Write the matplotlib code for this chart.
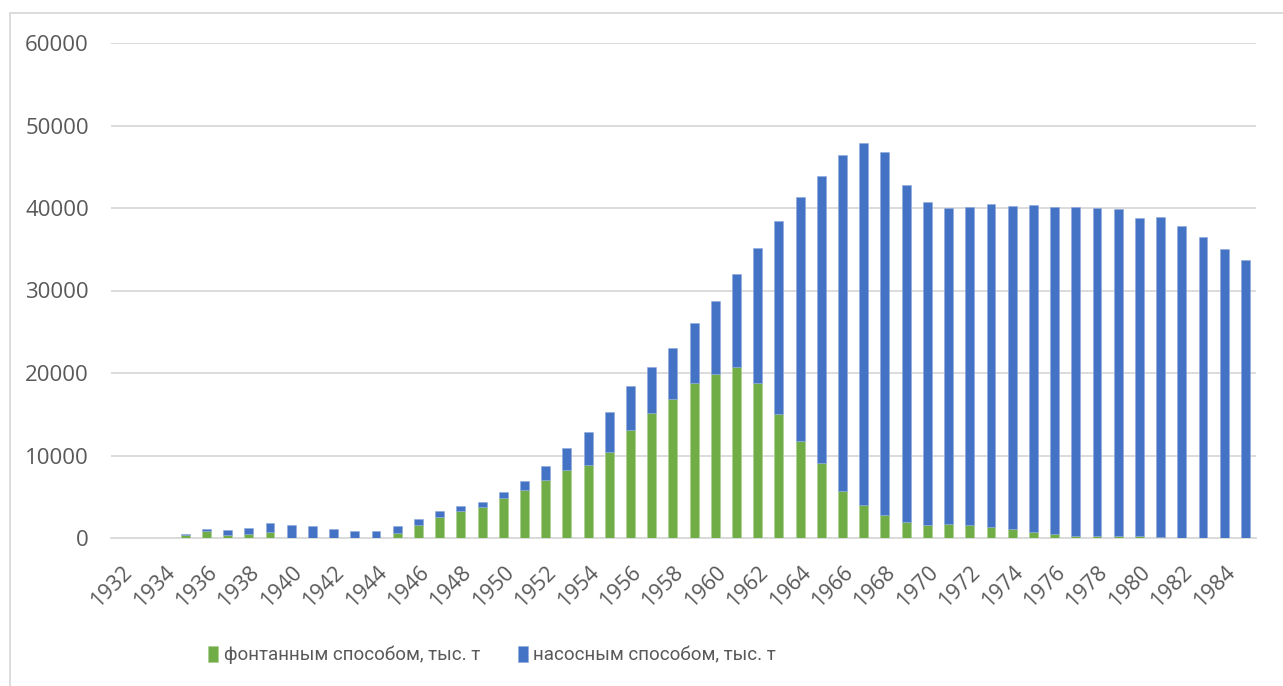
import numpy as np
import matplotlib
matplotlib.use('Agg')
import matplotlib.pyplot as plt
import matplotlib.transforms as mtransforms
from matplotlib.patches import Rectangle

# years 1932 .. 1985
years = list(range(1932, 1986))

# фонтанным способом, тыс. т (green, bottom)
flowing = [0, 0, 20, 400, 900, 350, 450, 700, 50, 30,
           20, 20, 20, 600, 1570, 2580, 3230, 3710, 4790, 5850,
           7000, 8290, 8850, 10420, 13130, 15150, 16890, 18790, 19840, 20730,
           18750, 15070, 11760, 9090, 5700, 4000, 2780, 2000, 1600, 1640,
           1520, 1350, 1150, 700, 500, 300, 200, 200, 200, 150,
           50, 30, 20, 20]

# totals (top of stacked bar)
total = [0, 0, 60, 450, 1050, 1000, 1250, 1780, 1540, 1420,
         1090, 850, 880, 1450, 2300, 3230, 3870, 4390, 5630, 6960,
         8700, 10950, 12890, 15270, 18420, 20730, 23030, 26100, 28730, 31960,
         35150, 38420, 41330, 43920, 46420, 47880, 46750, 42790, 40700, 40060,
         40130, 40500, 40220, 40340, 40180, 40130, 40010, 39850, 38840, 38880,
         37780, 36450, 35080, 33740]

# насосным способом, тыс. т (blue, top)
pumped = [t - f for t, f in zip(total, flowing)]

GREEN = '#70AD47'
BLUE = '#4472C4'
GRID = '#D9D9D9'
TEXT = '#595959'

plt.rcParams['font.family'] = ['Open Sans', 'DejaVu Sans']

fig = plt.figure(figsize = (12.83, 6.86), dpi = 100)
ax = fig.add_axes([111 / 1283, 1 - 538 / 686, (1256 - 111) / 1283, (538 - 43) / 686])

x = np.arange(len(years))
ax.bar(x, flowing, width = 0.42, color = GREEN, edgecolor = '#A9CE91', linewidth = 0.4,
       label = 'фонтанным способом, тыс. т', zorder = 3)
ax.bar(x, pumped, width = 0.42, bottom = flowing, color = BLUE, edgecolor = '#8FAADC', linewidth = 0.4,
       label = 'насосным способом, тыс. т', zorder = 3)

ax.set_xlim(-0.5, len(years) - 0.5)
ax.set_ylim(0, 60000)
ax.set_yticks(np.arange(0, 60001, 10000))
ax.set_yticklabels(['%d' % v for v in np.arange(0, 60001, 10000)])
ax.yaxis.grid(True, color = GRID, lw = 1.3, zorder = 0)

ax.set_xticks(x[::2])
ax.set_xticklabels([str(y) for y in years[::2]], rotation = 45, ha = 'right',
                   rotation_mode = 'anchor')
# shift the rotated year labels a bit to the right, like the original
shift = mtransforms.ScaledTranslation(4 / 100, 0, fig.dpi_scale_trans)
for lbl in ax.get_xticklabels():
    lbl.set_transform(lbl.get_transform() + shift)

for s in ['top', 'right', 'left']:
    ax.spines[s].set_visible(False)
ax.spines['bottom'].set_color(GRID)
ax.spines['bottom'].set_linewidth(1.3)
ax.spines['bottom'].set_zorder(1)

ax.tick_params(axis = 'both', length = 0, colors = TEXT)
ax.tick_params(axis = 'y', pad = 16, labelsize = 16)
ax.tick_params(axis = 'x', pad = 17, labelsize = 15.5)

leg = fig.legend(loc = 'center', bbox_to_anchor = (492 / 1283, 1 - 655 / 686), ncol = 2,
                 frameon = False, handlelength = 0.55, handleheight = 0.95,
                 handletextpad = 0.3, columnspacing = 2.0, labelcolor = TEXT,
                 prop = {'family': ['Roboto', 'Open Sans'], 'size': 13.5})

# chart area border (right and bottom edges are cut off in the picture)
fig.patches.append(Rectangle((10 / 1283, -0.1), 1.2, 1 - 13 / 686 + 0.1,
                             transform = fig.transFigure, fill = False,
                             edgecolor = GRID, linewidth = 1.3))

plt.savefig('out.png', dpi = 100)
